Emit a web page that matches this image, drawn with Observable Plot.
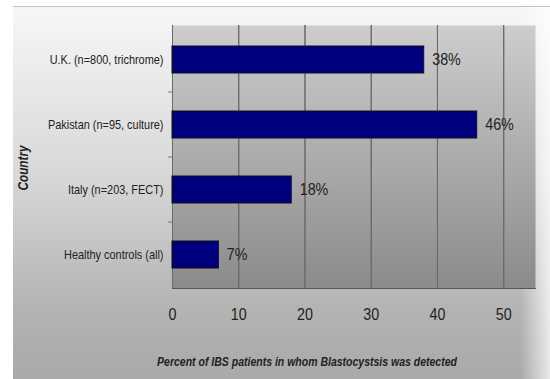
<!DOCTYPE html>
<html>
<head>
<meta charset="utf-8">
<script src="https://cdn.jsdelivr.net/npm/d3@7"></script>
<script src="https://cdn.jsdelivr.net/npm/@observablehq/plot@0.6"></script>
<style>
  html, body { margin: 0; padding: 0; background: #fff; }
  #wrap { position: relative; width: 550px; height: 379px; overflow: hidden; background: #fff; }
  #panel { position: absolute; left: 13px; top: 6px; right: 0; bottom: 0;
    border-top: 1px solid #c4c4c4;
    background: linear-gradient(to bottom, #f7f7f7 0%, #d8d8d8 45%, #b4b4b4 80%, #a9a9a9 100%); }
  #panelR { position: absolute; left: 520px; top: 7px; right: 0; bottom: 0;
    background: linear-gradient(to right, rgba(255,255,255,0) 0%, rgba(255,255,255,0.75) 100%); }
  #chart { position: absolute; left: 0; top: 0; }
  #chart svg { background: transparent !important; }
</style>
</head>
<body>
<div id="wrap"><div id="panel"></div><div id="panelR"></div><div id="chart"></div></div>
<script>
const categories = ["U.K. (n=800, trichrome)", "Pakistan (n=95, culture)", "Italy (n=203, FECT)", "Healthy controls (all)"];
const values = [38, 46, 18, 7];
const labels = ["38%", "46%", "18%", "7%"];
const xTicks = [0, 10, 20, 30, 40, 50];
const xTitle = "Percent of IBS patients in whom Blastocystsis was detected";
const yTitle = "Country";

const data = categories.map((c, i) => ({category: c, value: values[i], label: labels[i]}));
const font = "'Liberation Sans', Arial, sans-serif";

const chart = Plot.plot({
  width: 550,
  height: 379,
  marginLeft: 172,
  marginRight: 15,
  marginTop: 25,
  marginBottom: 91,
  style: {background: "transparent", fontFamily: font, color: "#222"},
  x: {domain: [0, 54.8], ticks: xTicks},
  y: {domain: categories, paddingInner: 0.59, paddingOuter: 0.295},
  marks: [
    Plot.frame({fill: "url(#plotGrad)", stroke: null}),
    Plot.gridX(xTicks.slice(1), {stroke: "#6a6a6a", strokeOpacity: 1, strokeWidth: 1}),
    Plot.gridX([0], {stroke: "#a8a8a8", strokeOpacity: 1, strokeWidth: 1}),
    Plot.tickX(xTicks, {x: d => d, y1: 288, y2: 295, stroke: "#6a6a6a"}),
    Plot.frame({anchor: "bottom", stroke: "#555", strokeWidth: 1}),
    Plot.barX(data, {x: "value", y: "category", fill: "#00007f", stroke: "#111", strokeWidth: 1}),
    Plot.text(data, {x: "value", y: "category", text: "label", textAnchor: "start", dx: 8, fontSize: 17, fill: "#222"}),
    Plot.axisX(xTicks, {tickSize: 0, tickPadding: 19, fontSize: 17, fill: "#222", label: null}),
    Plot.axisY({tickSize: 0, tickPadding: 9, fontSize: 13, fill: "#222", label: null}),
    Plot.text([xTitle], {frameAnchor: "bottom", textAnchor: "middle", dx: -47, dy: 77, fontSize: 12.5, fontWeight: "bold", fontStyle: "italic", fill: "#222"}),
    Plot.text([yTitle], {frameAnchor: "left", textAnchor: "middle", dx: -149, dy: 11, rotate: -90, fontSize: 14, fontWeight: "bold", fontStyle: "italic", fill: "#222"})
  ]
});

// gradient definition for the plot area fill
const svg = d3.select(chart.tagName === "svg" ? chart : chart.querySelector("svg"));
const defs = svg.insert("defs", ":first-child");
const g = defs.append("linearGradient").attr("id", "plotGrad").attr("x1", 0).attr("y1", 0).attr("x2", 0).attr("y2", 1);
g.append("stop").attr("offset", "0%").attr("stop-color", "#cdcdcd");
g.append("stop").attr("offset", "100%").attr("stop-color", "#8b8b8b");

// small category-separator ticks on the y axis (Excel style), placed from the band scale
const yScale = chart.scale("y");
const sep = svg.append("g").attr("stroke", "#777");
categories.slice(1).forEach(c => {
  const yy = yScale.apply(c) - (yScale.step - yScale.bandwidth) / 2;
  sep.append("line").attr("x1", 168).attr("x2", 172).attr("y1", yy).attr("y2", yy);
});

document.getElementById("chart").appendChild(chart);

// emulate the narrow typeface of the original by condensing glyphs horizontally
svg.selectAll("text").each(function () {
  const w = this.getComputedTextLength();
  if (w > 0) {
    this.setAttribute("textLength", (w * 0.84).toFixed(1));
    this.setAttribute("lengthAdjust", "spacingAndGlyphs");
  }
});
</script>
</body>
</html>
